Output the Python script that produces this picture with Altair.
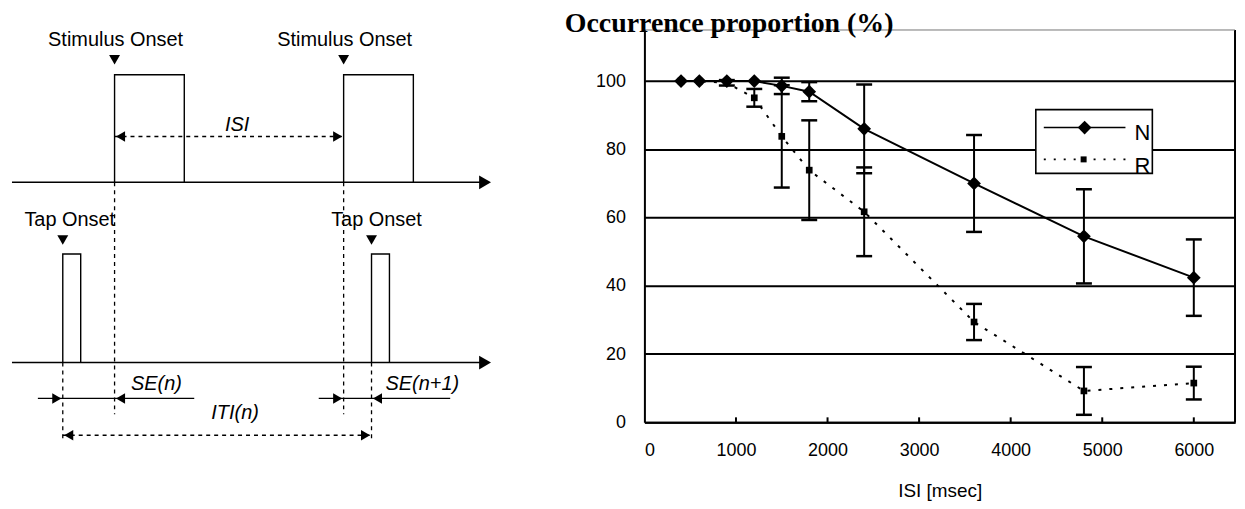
import altair as alt
import pandas as pd

# ---------------- chart data ----------------
isi = [400, 600, 900, 1200, 1500, 1800, 2400, 3600, 4800, 6000]
n_mean = [100, 100, 100, 100, 98.6, 96.9, 86.0, 70.0, 54.5, 42.4]
n_err = [0, 0, 0, 0, 2.4, 2.8, 13.0, 14.2, 13.8, 11.2]
r_mean = [100, 100, 99.5, 95.1, 83.8, 73.9, 61.7, 29.4, 9.2, 11.5]
r_err = [0, 0, 0.8, 2.6, 15.0, 14.6, 13.0, 5.3, 7.0, 4.8]
x_ticks = [0, 1000, 2000, 3000, 4000, 5000, 6000]
y_ticks = [0, 20, 40, 60, 80, 100]
inner_ticks = [1000, 2000, 3000, 4000, 5000, 6000]

# ---------------- schematic timeline (diagram units) ----------------
stim_onsets = [115, 345]
stim_width = 70
tap_onsets = [63, 373]
tap_width = 18
axis_start, axis_end = 12, 486
stim_axis_y, tap_axis_y = 182, 363
stim_top, tap_top = 74, 254
isi_y, se_y, iti_y = 136, 399, 436
se_extent = [(38, 195), (320, 452)]

W, H = 593, 394
PL, PT = 647, 29  # plot-area origin on the page

dx = alt.Scale(domain=[0, 1245], range=[-PL, 1245 - PL], nice=False, zero=False)
dy = alt.Scale(domain=[0, 509], range=[-PT, 509 - PT], nice=False, zero=False)
cx = alt.Scale(domain=[0, 6450], nice=False, zero=False)
cy = alt.Scale(domain=[0, 115], nice=False, zero=False)

FONT = "Liberation Sans"


def poly(rows, pts, key):
    for i, (x, y) in enumerate(pts):
        rows.append({"seg": key, "o": i, "x": x, "y": y})


solid_rows = []
poly(solid_rows, [(axis_start, stim_axis_y), (axis_end, stim_axis_y)], "ax1")
poly(solid_rows, [(axis_start, tap_axis_y), (axis_end, tap_axis_y)], "ax2")
for k, s in enumerate(stim_onsets):
    poly(solid_rows, [(s, stim_axis_y), (s, stim_top), (s + stim_width, stim_top),
                      (s + stim_width, stim_axis_y)], f"st{k}")
for k, t in enumerate(tap_onsets):
    poly(solid_rows, [(t, tap_axis_y), (t, tap_top), (t + tap_width, tap_top),
                      (t + tap_width, tap_axis_y)], f"tp{k}")
for k, (a, b) in enumerate(se_extent):
    poly(solid_rows, [(a, se_y), (b, se_y)], f"se{k}")
solid_df = pd.DataFrame(solid_rows)

dash_rows = []
for k, s in enumerate(stim_onsets):
    poly(dash_rows, [(s, stim_axis_y), (s, 415)], f"vs{k}")
for k, t in enumerate(tap_onsets):
    poly(dash_rows, [(t, tap_axis_y), (t, 443)], f"vt{k}")
poly(dash_rows, [(stim_onsets[0], isi_y), (stim_onsets[1], isi_y)], "isi")
poly(dash_rows, [(tap_onsets[0], iti_y), (tap_onsets[1], iti_y)], "iti")
dash_df = pd.DataFrame(dash_rows)

# arrow heads (centre positions, direction, size)
heads = [
    (axis_end + 1, stim_axis_y, "triangle-right", 190),
    (axis_end + 1, tap_axis_y, "triangle-right", 190),
    (stim_onsets[0] + 6, isi_y, "triangle-left", 110),
    (stim_onsets[1] - 6, isi_y, "triangle-right", 110),
    (tap_onsets[0] + 6, iti_y, "triangle-left", 110),
    (tap_onsets[1] - 6, iti_y, "triangle-right", 110),
    (tap_onsets[0] - 6, se_y, "triangle-right", 110),
    (stim_onsets[0] + 6, se_y, "triangle-left", 110),
    (stim_onsets[1] - 6, se_y, "triangle-right", 110),
    (tap_onsets[1] + 6, se_y, "triangle-left", 110),
    (stim_onsets[0], 59, "triangle-down", 120),
    (stim_onsets[1], 59, "triangle-down", 120),
    (tap_onsets[0], 240, "triangle-down", 120),
    (tap_onsets[1], 240, "triangle-down", 120),
]
heads_df = pd.DataFrame(heads, columns=["x", "y", "shape", "size"])

labels = [
    ("Stimulus Onset", 116, 39, "normal"),
    ("Stimulus Onset", 346, 39, "normal"),
    ("ISI", 238, 124, "italic"),
    ("Tap Onset", 70, 220, "normal"),
    ("Tap Onset", 378, 220, "normal"),
    ("SE(n)", 157, 385, "italic"),
    ("SE(n+1)", 424, 385, "italic"),
    ("ITI(n)", 236, 414, "italic"),
]
lab_df = pd.DataFrame(labels, columns=["t", "x", "y", "style"])

d_solid = alt.Chart(solid_df).mark_line(color="black", strokeWidth=1.4).encode(
    x=alt.X("x:Q", scale=dx, axis=None), y=alt.Y("y:Q", scale=dy, axis=None),
    detail="seg:N", order="o:Q")
d_dash = alt.Chart(dash_df).mark_line(color="black", strokeWidth=1.3, strokeDash=[4, 4]).encode(
    x=alt.X("x:Q", scale=dx, axis=None), y=alt.Y("y:Q", scale=dy, axis=None),
    detail="seg:N", order="o:Q")
d_heads = alt.Chart(heads_df).mark_point(filled=True, color="black", opacity=1).encode(
    x=alt.X("x:Q", scale=dx, axis=None), y=alt.Y("y:Q", scale=dy, axis=None),
    shape=alt.Shape("shape:N", scale=None), size=alt.Size("size:Q", scale=None))
d_text_n = alt.Chart(lab_df[lab_df["style"] == "normal"]).mark_text(
    font=FONT, fontSize=20, color="black", align="center", baseline="middle").encode(
    x=alt.X("x:Q", scale=dx, axis=None), y=alt.Y("y:Q", scale=dy, axis=None), text="t:N")
d_text_i = alt.Chart(lab_df[lab_df["style"] == "italic"]).mark_text(
    font=FONT, fontSize=20, fontStyle="italic", color="black", align="center",
    baseline="middle").encode(
    x=alt.X("x:Q", scale=dx, axis=None), y=alt.Y("y:Q", scale=dy, axis=None), text="t:N")

# ---------------- chart layers ----------------
df = pd.DataFrame({"isi": isi, "N": n_mean, "Ne": n_err, "R": r_mean, "Re": r_err})
df["Nlo"] = df["N"] - df["Ne"]
df["Nhi"] = df["N"] + df["Ne"]
df["Rlo"] = df["R"] - df["Re"]
df["Rhi"] = df["R"] + df["Re"]
nbar = df[df["Ne"] > 0]
rbar = df[df["Re"] > 0]
one = pd.DataFrame({"k": [0]})


def X(f="isi:Q"):
    return alt.X(f, scale=cx, axis=None)


def Y(f):
    return alt.Y(f, scale=cy, axis=None)


n_line = alt.Chart(df).mark_line(color="black", strokeWidth=2).encode(
    x=alt.X("isi:Q", scale=cx,
            axis=alt.Axis(values=x_ticks, format="d", title="ISI [msec]", ticks=False, grid=False,
                          labelPadding=19, labelFontSize=18, labelFont=FONT,
                          titleFont=FONT, titleFontSize=19, titleFontWeight="normal",
                          titlePadding=22, domainColor="black", domainWidth=2,
                          labelColor="black", titleColor="black")),
    y=alt.Y("N:Q", scale=cy,
            axis=alt.Axis(values=y_ticks, format="d", title=None, ticks=False, grid=True,
                          gridColor="black", gridWidth=2, gridOpacity=1,
                          labelPadding=19, labelFontSize=18, labelFont=FONT,
                          domainColor="black", domainWidth=2, labelColor="black")))

r_line = alt.Chart(df).mark_line(color="black", strokeWidth=2, strokeDash=[3, 8]).encode(
    x=X(), y=Y("R:Q"))

inner = alt.Chart(pd.DataFrame({"t": inner_ticks})).mark_rule(color="black", strokeWidth=2).encode(
    x=X("t:Q"), y=alt.value(H), y2=alt.value(H - 5))

n_err_rule = alt.Chart(nbar).mark_rule(color="black", strokeWidth=2, opacity=1).encode(
    x=X(), y=Y("Nlo:Q"), y2="Nhi:Q")
r_err_rule = alt.Chart(rbar).mark_rule(color="black", strokeWidth=2, opacity=1).encode(
    x=X(), y=Y("Rlo:Q"), y2="Rhi:Q")


def cap(data, field):
    return alt.Chart(data).mark_tick(color="black", orient="horizontal", size=16,
                                     thickness=2.5, opacity=1).encode(x=X(), y=Y(field))


caps = [cap(nbar, "Nlo:Q"), cap(nbar, "Nhi:Q"), cap(rbar, "Rlo:Q"), cap(rbar, "Rhi:Q")]

n_pts = alt.Chart(df).mark_point(shape="diamond", filled=True, color="black", size=190, opacity=1).encode(
    x=X(), y=Y("N:Q"))
r_pts = alt.Chart(df).mark_point(shape="square", filled=True, color="black", size=45, opacity=1).encode(
    x=X(), y=Y("R:Q"))

right_border = alt.Chart(one).mark_rule(color="black", strokeWidth=2).encode(
    x=alt.value(W), y=alt.value(0), y2=alt.value(H))
top_border = alt.Chart(one).mark_rule(color="#888888", strokeWidth=1).encode(
    x=alt.value(0), x2=alt.value(W), y=alt.value(0))

# legend (manual, inside the plot)
LX, LY = 393, 80
leg_box = alt.Chart(one).mark_rect(fill="white", stroke="black", strokeWidth=1.6).encode(
    x=alt.value(LX), x2=alt.value(LX + 117), y=alt.value(LY), y2=alt.value(LY + 64))
leg_n_line = alt.Chart(one).mark_rule(color="black", strokeWidth=1.6).encode(
    x=alt.value(LX + 8), x2=alt.value(LX + 90), y=alt.value(LY + 18))
leg_r_line = alt.Chart(one).mark_rule(color="black", strokeWidth=1.6, strokeDash=[2, 8]).encode(
    x=alt.value(LX + 8), x2=alt.value(LX + 90), y=alt.value(LY + 50))
leg_n_pt = alt.Chart(one).mark_point(shape="diamond", filled=True, color="black", size=190, opacity=1).encode(
    x=alt.value(LX + 49), y=alt.value(LY + 18))
leg_r_pt = alt.Chart(one).mark_point(shape="square", filled=True, color="black", size=36, opacity=1).encode(
    x=alt.value(LX + 48), y=alt.value(LY + 50))
leg_n_txt = alt.Chart(one).mark_text(text="N", font=FONT, fontSize=22, align="left", baseline="middle").encode(
    x=alt.value(LX + 99), y=alt.value(LY + 24))
leg_r_txt = alt.Chart(one).mark_text(text="R", font=FONT, fontSize=22, align="left", baseline="middle").encode(
    x=alt.value(LX + 99), y=alt.value(LY + 57))

title = alt.Chart(one).mark_text(text="Occurrence proportion (%)", font="Liberation Serif",
                                 fontSize=28, fontWeight="bold", align="left",
                                 baseline="top").encode(
    x=alt.value(-80), y=alt.value(-20))

chart = alt.layer(
    n_line, r_line, inner, n_err_rule, r_err_rule, *caps,
    n_pts, r_pts, right_border, top_border,
    leg_box, leg_n_line, leg_r_line, leg_n_pt, leg_r_pt, leg_n_txt, leg_r_txt, title,
    d_solid, d_dash, d_heads, d_text_n, d_text_i,
).resolve_scale(x="independent", y="independent").properties(
    width=W, height=H,
    autosize=alt.AutoSizeParams(type="none"),
    padding={"left": PL - 8, "top": PT - 8, "right": 2, "bottom": 78},
).configure_view(stroke=None).configure(background="white")

chart.save("out.html", embed_options={"renderer": "svg", "actions": False})
